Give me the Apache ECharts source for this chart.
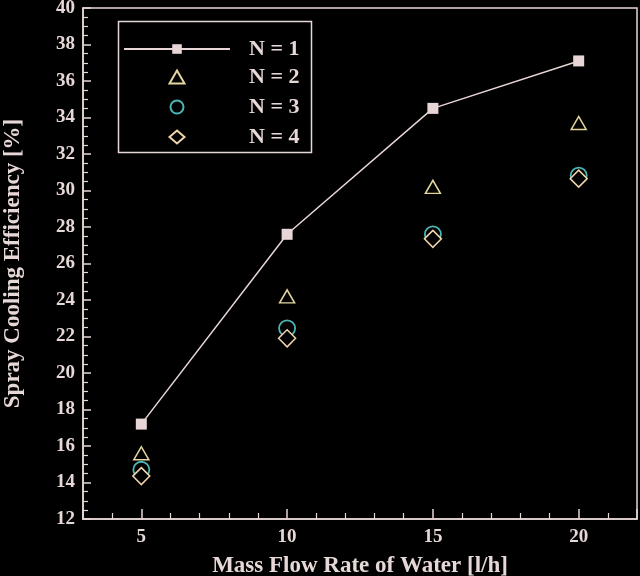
<!DOCTYPE html>
<html><head><meta charset="utf-8">
<script src="https://cdn.jsdelivr.net/npm/echarts@6/dist/echarts.min.js"></script>
<style>html,body{margin:0;padding:0;background:#000}#c{width:640px;height:576px}</style>
</head><body><div id="c"></div>
<script>
const flowRates = [5, 10, 15, 20];
const effN1 = [17.2, 27.6, 34.5, 37.1];
const effN2 = [15.6, 24.2, 30.2, 33.7];
const effN3 = [14.7, 22.45, 27.6, 30.82];
const effN4 = [14.35, 21.9, 27.35, 30.65];
const seriesNames = ['N = 1', 'N = 2', 'N = 3', 'N = 4'];
const xTitle = 'Mass Flow Rate of Water [l/h]';
const yTitle = 'Spray Cooling Efficiency [%]';

const FG = '#e6d8d6';
const FONT = '"Liberation Serif", "Times New Roman", serif';
const pair = (xs, ys) => xs.map((x, i) => [x, ys[i]]);

const chart = echarts.init(document.getElementById('c'), null, {renderer: 'canvas'});
chart.setOption({
  backgroundColor: '#000',
  animation: false,
  grid: {left: 83, right: 3, top: 8, bottom: 57, outerBoundsMode: 'none', containLabel: false, show: true, borderColor: FG, borderWidth: 1.5, backgroundColor: 'transparent'},
  xAxis: {
    type: 'value', min: 3, max: 22, splitNumber: 4,
    axisLine: {lineStyle: {color: FG, width: 1.5}},
    axisTick: {inside: true, length: 10, lineStyle: {color: FG, width: 1.5}},
    minorTick: {show: true, splitNumber: 5, length: 6, lineStyle: {color: FG, width: 1.2}},
    splitLine: {show: false},
    axisLabel: {showMinLabel: false, showMaxLabel: false, margin: 9, color: FG, fontSize: 19, fontWeight: 'bold', fontFamily: FONT},
    name: xTitle, nameLocation: 'middle', nameGap: 36,
    nameTextStyle: {color: FG, fontSize: 23, fontWeight: 'bold', fontFamily: FONT}
  },
  yAxis: {
    type: 'value', min: 12, max: 40, interval: 2,
    axisLine: {lineStyle: {color: FG, width: 1.5}},
    axisTick: {inside: true, length: 8, lineStyle: {color: FG, width: 1.5}},
    minorTick: {show: true, splitNumber: 4, length: 5, lineStyle: {color: FG, width: 1.2}},
    splitLine: {show: false},
    axisLabel: {margin: 8, color: FG, fontSize: 19, fontWeight: 'bold', fontFamily: FONT},
    name: yTitle, nameLocation: 'middle', nameGap: 58,
    nameTextStyle: {color: FG, fontSize: 23, fontWeight: 'bold', fontFamily: FONT}
  },
  legend: [
    {
      data: [seriesNames[0]], left: 123, top: 38, padding: 0,
      itemWidth: 106, itemHeight: 12, selectedMode: false,
      textStyle: {color: FG, fontSize: 22, fontWeight: 'bold', fontFamily: FONT, lineHeight: 20, padding: [0, 0, 0, 14]}
    },
    {
      data: seriesNames.slice(1), orient: 'vertical', left: 168.5, top: 66, padding: 0,
      itemWidth: 15, itemHeight: 13, itemGap: 8, selectedMode: false,
      textStyle: {color: FG, fontSize: 22, fontWeight: 'bold', fontFamily: FONT, lineHeight: 20, padding: [0, 0, 0, 59.5]}
    }
  ],
  graphic: [{
    type: 'rect', left: 116, top: 19, z: 10,
    shape: {x: 0, y: 0, width: 193, height: 131},
    style: {fill: 'none', stroke: FG, lineWidth: 1.5}
  }],
  series: [
    {
      name: seriesNames[0], type: 'line', data: pair(flowRates, effN1),
      symbol: 'rect', symbolSize: 11, z: 5,
      lineStyle: {color: '#e8d6d6', width: 1.5},
      itemStyle: {color: '#e8d6d6'}
    },
    {
      name: seriesNames[1], type: 'scatter', data: pair(flowRates, effN2),
      symbol: 'triangle', symbolSize: [15, 13],
      itemStyle: {color: '#000', borderColor: '#e2d69e', borderWidth: 1.5, opacity: 1}
    },
    {
      name: seriesNames[2], type: 'scatter', data: pair(flowRates, effN3),
      symbol: 'circle', symbolSize: 16,
      itemStyle: {color: '#000', borderColor: '#4cb6b6', borderWidth: 1.8, opacity: 1}
    },
    {
      name: seriesNames[3], type: 'scatter', data: pair(flowRates, effN4),
      symbol: 'diamond', symbolSize: 17,
      itemStyle: {color: '#000', borderColor: '#f0d4ac', borderWidth: 1.5, opacity: 1}
    }
  ]
});
</script>
</body></html>
